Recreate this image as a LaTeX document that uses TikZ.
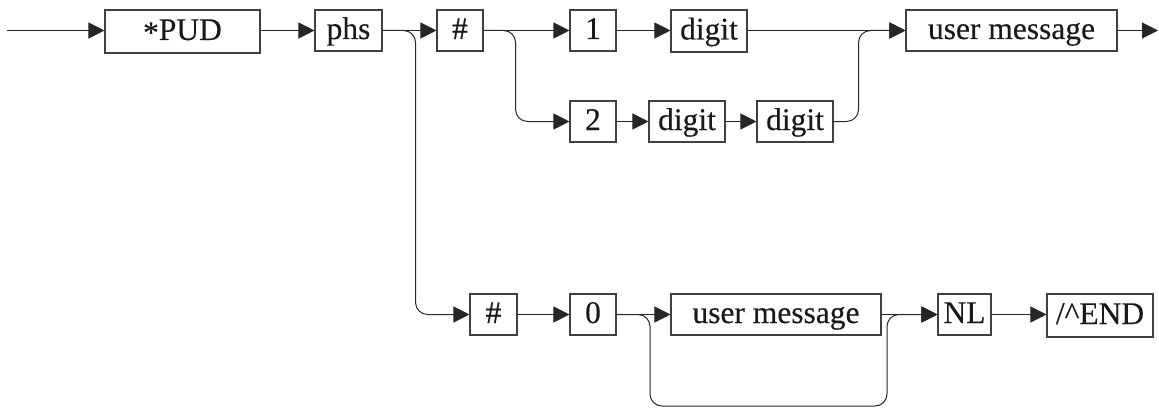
\documentclass[tikz,border=0pt]{standalone}
\usepackage{fontspec}
\setmainfont{Liberation Serif}
\newfontfamily\boxfont[FakeBold=0.3]{Liberation Serif}
\usetikzlibrary{arrows.meta}
\begin{document}
\begin{tikzpicture}[x=1pt,y=1pt,
  box/.style={draw=black!75, line width=1.1pt, minimum height=41pt, inner sep=0pt,
    text height=23pt, text depth=6pt,
    font=\boxfont\fontsize{31.5}{36}\selectfont, text=black!90},
  conn/.style={draw=black!85, line width=1pt},
  arr/.style={conn, -{Triangle[length=16pt,width=16pt]}},
  rc/.style={rounded corners=12pt}]
\useasboundingbox (0,0) rectangle (1159,408);
% row y (tikz): row1 377.5, row2 286.5, row3 93.5
\node[box, minimum width=155pt, minimum height=43pt] (pud) at (182.5,376.5) {\raisebox{-3pt}{*}PUD};
\node[box, minimum width=67pt] (phs) at (348.5,377.5) {phs};
\node[box, minimum width=46pt] (h1) at (460,377.5) {\#};
\node[box, minimum width=46pt] (one) at (593,377.5) {1};
\node[box, minimum width=76pt, minimum height=42pt] (d1) at (709,377) {digit};
\node[box, minimum width=211pt] (um1) at (1011.5,377.5) {user message};
\node[box, minimum width=46pt] (two) at (593,286.5) {2};
\node[box, minimum width=76pt] (d2) at (687,286.5) {digit};
\node[box, minimum width=76pt] (d3) at (795,286.5) {digit};
\node[box, minimum width=47pt] (h2) at (493.5,93.5) {\#};
\node[box, minimum width=46pt] (zero) at (593,93.5) {0};
\node[box, minimum width=210pt] (um2) at (776,93.5) {user message};
\node[box, minimum width=53pt] (nl) at (964.5,93.5) {NL};
\node[box, minimum width=106pt, minimum height=43pt] (end) at (1100,92.5) {/\textasciicircum END};
\coordinate (start) at (7,377.5);
\coordinate (stop) at (1158,377.5);
\coordinate (low) at (650,2);
\coordinate (up) at (887,93.5);
% main row 1
\draw[arr] (start) -- (pud.west |- start);
\draw[arr] (pud.east |- phs) -- (phs.west);
\draw[arr] (phs.east) -- (h1.west);
\draw[arr] (h1.east) -- (one.west);
\draw[arr] (one.east) -- (d1.west |- one);
\draw[arr] (d1.east |- one) -- (um1.west);
\draw[arr] (um1.east) -- (stop);
% row 2
\draw[arr, rc] (h1.east) -- ++(32,0) |- (two.west);
\draw[arr] (two.east) -- (d2.west);
\draw[arr] (d2.east) -- (d3.west);
\draw[arr, rc] (d3.east) -- ++(25,0) |- (um1.west);
% row 3
\draw[arr, rc] (phs.east) -- ++(33,0) |- (h2.west);
\draw[arr] (h2.east) -- (zero.west);
\draw[arr] (zero.east) -- (um2.west);
\draw[arr] (um2.east) -- (nl.west);
\draw[arr, rc] (zero.east) -| (low) -| (up) -- (nl.west);
\draw[arr] (nl.east) -- (end.west |- nl);
\end{tikzpicture}
\end{document}
